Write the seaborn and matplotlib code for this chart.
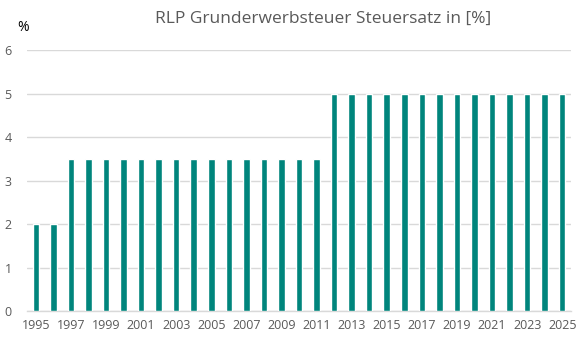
import matplotlib
matplotlib.use("Agg")
import matplotlib.pyplot as plt
import seaborn as sns
import pandas as pd

years = list(range(1995, 2026))
rates = [2, 2] + [3.5] * 15 + [5] * 14
tick_years = [str(y) if (y - 1995) % 2 == 0 else "" for y in years]

sns.set_theme(style="white")
plt.rcParams['font.family'] = ['Open Sans', 'DejaVu Sans']

df = pd.DataFrame({"year": [str(y) for y in years], "rate": rates})

fig = plt.figure(figsize=(5.82, 3.41), dpi=100)
ax = fig.add_axes([0.0464, 0.088, 0.9347, 0.765])
sns.barplot(data=df, x="year", y="rate", color="#00857C", width=0.37,
            saturation=1, ax=ax, zorder=3)
ax.set_xlim(-0.5, len(years) - 0.5)
ax.set_ylim(0, 6)
ax.set_yticks(range(0, 7))
ax.yaxis.grid(True, color="#D9D9D9", linewidth=1, zorder=0)
ax.set_axisbelow(True)
for s in ["top", "right", "left"]:
    ax.spines[s].set_visible(False)
ax.spines["bottom"].set_color("#D9D9D9")
ax.spines["bottom"].set_linewidth(1)
ax.set_xticks(range(len(years)))
ax.set_xticklabels(tick_years)
ax.tick_params(axis="both", length=0, labelsize=9, colors="#595959")
ax.tick_params(axis="x", pad=6)
ax.tick_params(axis="y", pad=11)
ax.set_xlabel("")
ax.set_ylabel("")
fig.text(0.555, 0.945, "RLP Grunderwerbsteuer Steuersatz in [%]", ha="center",
         va="center", fontsize=12.5, color="#595959")
fig.text(0.039, 0.918, "%", ha="center", va="center", fontsize=10, color="#000000")
fig.savefig("out.png", dpi=100)
